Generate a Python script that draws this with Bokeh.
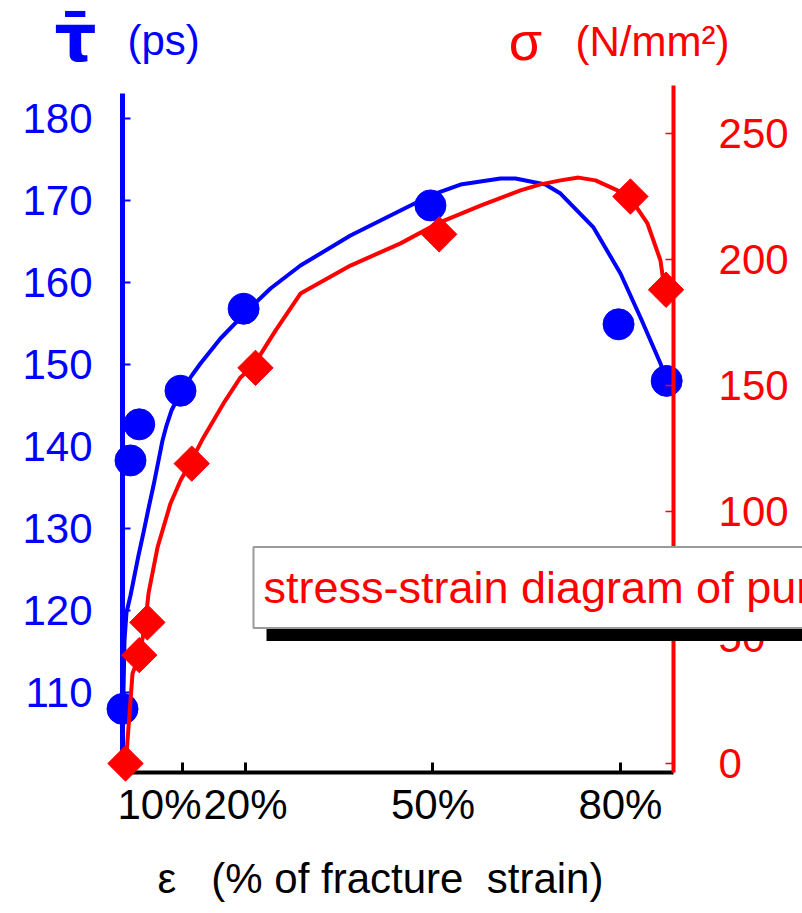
import math
from bokeh.plotting import figure
from bokeh.models import Range1d, LinearAxis, FixedTicker, Label
from bokeh.embed import file_html
from bokeh.resources import INLINE

# ---- data ----
strain_tau = [0.32, 1.6, 3.0, 9.6, 19.7, 49.6, 79.7, 87.4]
tau = [108.0, 138.3, 142.7, 146.8, 156.8, 169.4, 154.9, 148.0]

strain_sigma = [0.8, 3.0, 4.3, 11.4, 21.6, 51.0, 81.6, 87.3]
sigma = [0, 43, 56, 119, 157, 210, 225, 188]

curve_tau_x = [0.32, 0.48, 0.64, 0.96, 1.60, 2.24, 2.88, 3.68, 4.48, 5.28, 6.08, 6.72, 7.36,
               8.16, 9.12, 10.24, 11.52, 12.80, 16.00, 20.00, 24.00, 28.80, 36.80, 44.81,
               49.61, 54.41, 60.81, 63.21, 68.01, 70.41, 75.69, 80.01, 83.21, 86.41, 87.37]
curve_tau_y = [100.24, 110.24, 116.34, 119.76, 121.83, 124.27, 126.71, 129.51, 132.44, 135.24,
               138.29, 140.73, 142.56, 144.39, 145.85, 147.32, 148.78, 150.12, 153.17, 156.34,
               159.27, 162.07, 165.73, 168.78, 170.61, 171.95, 172.68, 172.68, 171.95, 170.85,
               166.71, 161.10, 155.73, 150.12, 148.05]

curve_sig_x = [0.80, 1.12, 1.60, 1.92, 3.04, 4.00, 4.48, 5.92, 8.00, 9.60, 11.04, 13.28, 16.48,
               19.20, 21.28, 24.80, 28.80, 36.80, 44.81, 50.73, 57.61, 64.01, 67.21, 70.41,
               73.29, 76.01, 78.73, 81.29, 84.33, 86.41, 87.05]
curve_sig_y = [-3.0, 9.1, 25.0, 35.7, 42.9, 56.0, 67.5, 85.7, 103.2, 112.3, 118.7, 129.4, 142.9,
               153.2, 157.9, 171.8, 186.5, 197.6, 206.4, 214.3, 221.4, 227.4, 229.8, 231.4,
               232.5, 231.4, 228.3, 225.4, 214.3, 199.6, 188.1]

tau_ticks = [110, 120, 130, 140, 150, 160, 170, 180]
sigma_ticks = [0, 50, 100, 150, 200, 250]
strain_ticks = [10, 20, 50, 80]
strain_label_pos = [6.24, 20, 50, 80]
strain_tick_labels = ["10%", "20%", "50%", "80%"]

legend_text = "stress-strain diagram of pure"

BLUE = "#0000ff"
RED = "#ff0000"
FONT = "Liberation Sans"
FS = "42px"

W, H = 802, 913
p = figure(width=W, height=H,
           x_range=Range1d(-19.2032, 109.136), y_range=Range1d(83.049, 194.390),
           min_border_left=0, min_border_right=0, min_border_top=0, min_border_bottom=0,
           output_backend="svg", toolbar_location=None)
p.extra_y_ranges = {"s": Range1d(-59.524, 302.778)}
p.grid.visible = False
p.outline_line_color = None
p.background_fill_color = "white"
p.border_fill_color = "white"

# left axis (tau)
yax = p.yaxis[0]
yax.fixed_location = 0.32
yax.bounds = (100.24, 183.05)
yax.ticker = FixedTicker(ticks=tau_ticks)
yax.axis_line_color = BLUE
yax.axis_line_width = 5
yax.major_tick_line_color = BLUE
yax.major_tick_line_width = 2
yax.major_tick_in = 8
yax.major_tick_out = 0
yax.minor_tick_line_color = None
yax.major_label_text_color = BLUE
yax.major_label_text_font = FONT
yax.major_label_text_font_size = FS
yax.major_label_standoff = 30

# bottom axis (line + ticks)
xax = p.xaxis[0]
xax.fixed_location = 100.24
xax.bounds = (0.32, 88.5)
xax.ticker = FixedTicker(ticks=strain_ticks)
xax.axis_line_color = "black"
xax.axis_line_width = 4
xax.major_tick_line_color = "black"
xax.major_tick_line_width = 3
xax.major_tick_in = 10
xax.major_tick_out = 0
xax.minor_tick_line_color = None
xax.major_label_text_color = None

# bottom axis (labels)
xlab = LinearAxis(ticker=FixedTicker(ticks=strain_label_pos),
                  major_label_overrides=dict(zip(strain_label_pos, strain_tick_labels)),
                  fixed_location=100.24, bounds=(0.32, 82.89),
                  axis_line_color=None, major_tick_line_color=None, minor_tick_line_color=None,
                  major_tick_out=0, major_tick_in=0,
                  major_label_text_color="black", major_label_text_font=FONT,
                  major_label_text_font_size=FS, major_label_standoff=8,
                  axis_label="\u03b5\u00a0\u00a0\u00a0(% of fracture\u00a0\u00a0strain)",
                  axis_label_text_font=FONT, axis_label_text_font_size=FS,
                  axis_label_text_font_style="normal", axis_label_text_color="black",
                  axis_label_standoff=24)
p.add_layout(xlab, "below")

# right axis (sigma)
rax = LinearAxis(y_range_name="s", fixed_location=88.5, bounds=(-3.57, 269.05),
                 ticker=FixedTicker(ticks=sigma_ticks),
                 axis_line_color=RED, axis_line_width=4,
                 major_tick_line_color=RED, major_tick_line_width=1.5,
                 major_tick_in=8, major_tick_out=0, minor_tick_line_color=None,
                 major_label_text_color=RED, major_label_text_font=FONT,
                 major_label_text_font_size=FS, major_label_standoff=45)
p.add_layout(rax, "right")

# data
p.line(curve_tau_x, curve_tau_y, line_color=BLUE, line_width=4)
p.scatter(strain_tau, tau, marker="circle", size=31, color=BLUE)
p.line(curve_sig_x, curve_sig_y, y_range_name="s", line_color=RED, line_width=4, level="overlay")
p.scatter(strain_sigma, sigma, y_range_name="s", marker="square", size=25,
          angle=math.pi / 4, color=RED, level="overlay")

# titles (screen units, frame = whole canvas, origin bottom-left)
p.add_layout(Label(x=75, y=H - 38, x_units="screen", y_units="screen",
                   text="\u03c4\u0304", text_font="DejaVu Sans", text_font_style="bold",
                   text_font_size="66px", text_color=BLUE, text_align="center",
                   text_baseline="alphabetic"))
p.add_layout(Label(x=127, y=H - 40, x_units="screen", y_units="screen",
                   text="(ps)", text_font=FONT, text_font_size=FS, text_color=BLUE,
                   text_align="left", text_baseline="middle"))
p.add_layout(Label(x=525, y=H - 40, x_units="screen", y_units="screen",
                   text="\u03c3", text_font=FONT, text_font_size="54px", text_color=RED,
                   text_align="center", text_baseline="alphabetic"))
p.add_layout(Label(x=575, y=H - 41, x_units="screen", y_units="screen",
                   text="(N/mm\u00b2)", text_font=FONT, text_font_size=FS, text_color=RED,
                   text_align="left", text_baseline="middle"))

# legend-like box with shadow
p.add_layout(Label(x=253 + 13, y=H - 587 - 13, x_units="screen", y_units="screen",
                   text="\u00a0", text_font=FONT, text_font_size="45px", text_color="black",
                   text_align="left", text_baseline="middle",
                   background_fill_color="black",
                   padding=dict(left=0, right=600, top=15, bottom=15)))
p.add_layout(Label(x=253, y=H - 587, x_units="screen", y_units="screen",
                   text=legend_text, text_font=FONT, text_font_size="45px", text_color=RED,
                   text_align="left", text_baseline="middle",
                   background_fill_color="white", border_line_color="#9a9a9a",
                   border_line_width=2,
                   padding=dict(left=10, right=60, top=15, bottom=15)))

open("out.html", "w").write(file_html(p, INLINE))
